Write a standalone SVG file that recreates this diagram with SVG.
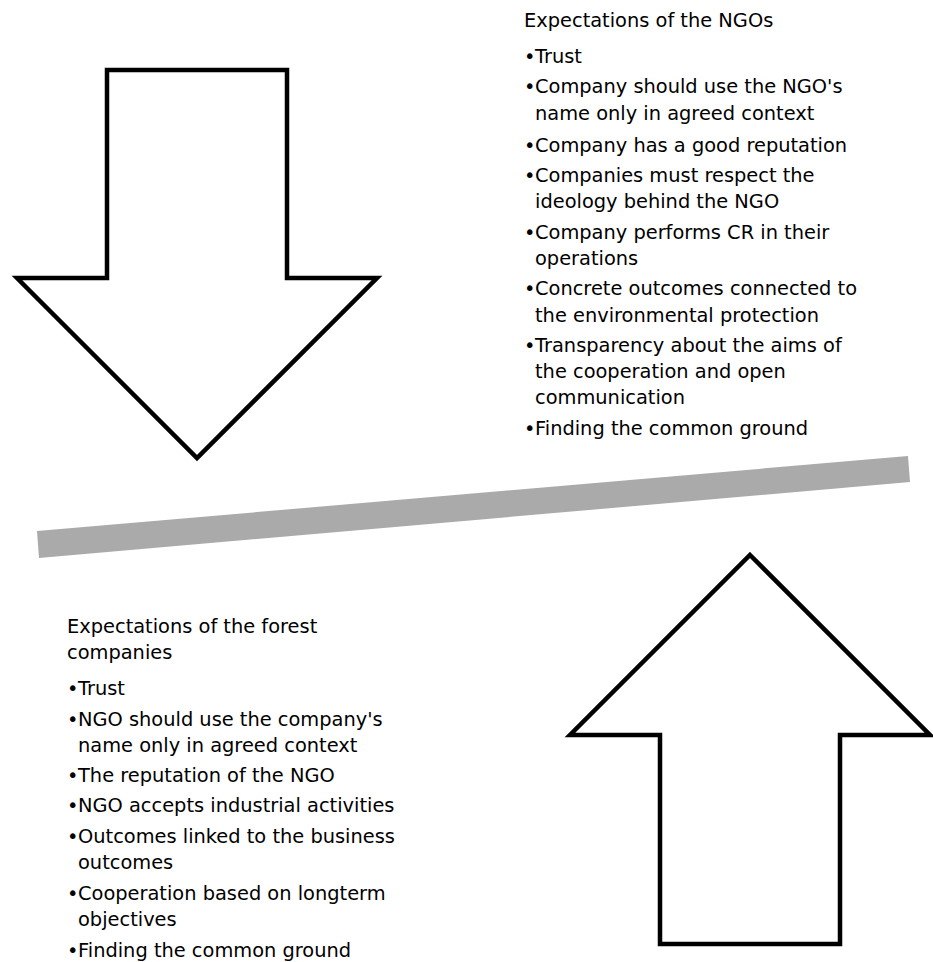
<svg xmlns="http://www.w3.org/2000/svg" width="933" height="962" viewBox="0 0 933 962">
  <style>
    .arrow { fill: #ffffff; stroke: #000000; stroke-width: 4.5; stroke-linejoin: miter; }
    .bar { fill: #aaaaaa; }
    text { font-family: "DejaVu Sans", "Liberation Sans", sans-serif; font-size: 19.4px; fill: #000000; }
  </style>
  <rect width="933" height="962" fill="#ffffff"/>

  <!-- downward arrow (NGOs' expectations toward the company) -->
  <g id="arrow-down">
    <polygon class="arrow" points="107,70 287,70 287,278 377,278 197,458 17,278 107,278"/>
  </g>

  <!-- upward arrow (companies' expectations toward the NGO) -->
  <g id="arrow-up">
    <polygon class="arrow" points="750,555 930,735 840,735 840,944 660,944 660,735 570,735"/>
  </g>

  <!-- tilted grey dividing bar -->
  <g id="divider">
    <polygon class="bar" points="37,531 908,456 910,482 39,558"/>
  </g>

  <!-- expectations of the NGOs -->
  <g id="ngo-expectations">
    <text x="524" y="27">Expectations of the NGOs</text>
    <text x="524" y="63">•</text><text x="535" y="63">Trust</text>
    <text x="524" y="93">•</text><text x="535" y="93">Company should use the NGO's</text>
    <text x="535" y="120">name only in agreed context</text>
    <text x="524" y="152">•</text><text x="535" y="152">Company has a good reputation</text>
    <text x="524" y="182">•</text><text x="535" y="182">Companies must respect the</text>
    <text x="535" y="208">ideology behind the NGO</text>
    <text x="524" y="239">•</text><text x="535" y="239">Company performs CR in their</text>
    <text x="535" y="265">operations</text>
    <text x="524" y="295">•</text><text x="535" y="295">Concrete outcomes connected to</text>
    <text x="535" y="322">the environmental protection</text>
    <text x="524" y="352">•</text><text x="535" y="352">Transparency about the aims of</text>
    <text x="535" y="378">the cooperation and open</text>
    <text x="535" y="404">communication</text>
    <text x="524" y="435">•</text><text x="535" y="435">Finding the common ground</text>
  </g>

  <!-- expectations of the forest companies -->
  <g id="company-expectations">
    <text x="67" y="633">Expectations of the forest</text>
    <text x="67" y="659">companies</text>
    <text x="67" y="695">•</text><text x="78" y="695">Trust</text>
    <text x="67" y="726">•</text><text x="78" y="726">NGO should use the company's</text>
    <text x="78" y="752">name only in agreed context</text>
    <text x="67" y="782">•</text><text x="78" y="782">The reputation of the NGO</text>
    <text x="67" y="812">•</text><text x="78" y="812">NGO accepts industrial activities</text>
    <text x="67" y="843">•</text><text x="78" y="843">Outcomes linked to the business</text>
    <text x="78" y="869">outcomes</text>
    <text x="67" y="900">•</text><text x="78" y="900">Cooperation based on longterm</text>
    <text x="78" y="926">objectives</text>
    <text x="67" y="957">•</text><text x="78" y="957">Finding the common ground</text>
  </g>
</svg>
